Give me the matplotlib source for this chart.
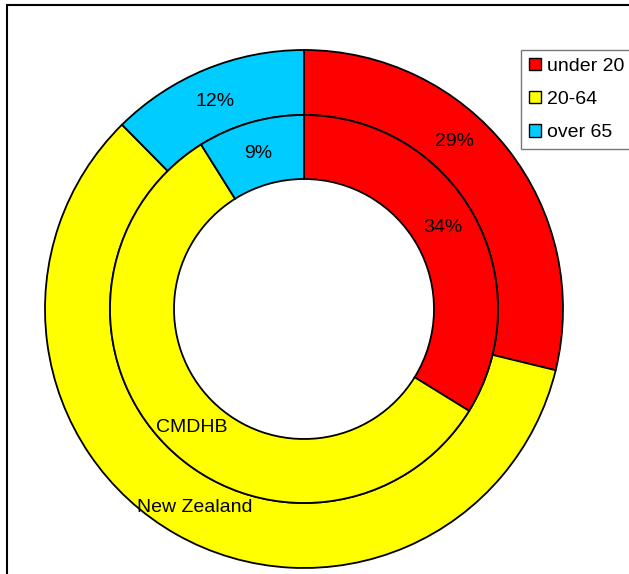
import matplotlib
matplotlib.use("Agg")
import matplotlib.pyplot as plt
from matplotlib.patches import Rectangle, Patch

plt.rcParams['font.family'] = ['Liberation Sans', 'DejaVu Sans']

categories = ["under 20", "20-64", "over 65"]
nz_values = [28.8, 58.8, 12.4]  # outer ring: New Zealand
cmdhb_values = [33.8, 57.3, 8.9]  # inner ring: CMDHB
colors = ["#FF0000", "#FFFF00", "#00CCFF"]
ring_names = ["New Zealand", "CMDHB"]

W, H = 629, 574
fig = plt.figure(figsize=(W / 100, H / 100), dpi=100)
ax = fig.add_axes([0, 0, 1, 1])

cx, cy = 304, H - 309
r_outer, r_mid, r_hole = 259, 194, 130
wp = dict(edgecolor='black', linewidth=1.3)

ax.pie(nz_values, colors=colors, radius=r_outer, center=(cx, cy),
       startangle=90, counterclock=False,
       wedgeprops=dict(width=r_outer - r_mid, **wp), frame=True)
ax.pie(cmdhb_values, colors=colors, radius=r_mid, center=(cx, cy),
       startangle=90, counterclock=False,
       wedgeprops=dict(width=r_mid - r_hole, **wp), frame=True)
ax.set_xlim(0, W)
ax.set_ylim(0, H)
ax.set_aspect('equal')
ax.axis('off')

fs = 14
# percentage labels (pixel positions)
lbl = [("%.0f%%" % nz_values[0], 455, 142), ("%.0f%%" % cmdhb_values[0], 443, 228),
       ("%.0f%%" % nz_values[2], 215, 102), ("%.0f%%" % cmdhb_values[2], 258, 153)]
for t, x, y in lbl:
    ax.text(x, H - y, t, fontsize=fs, ha='center', va='center')
ax.text(192, H - 427, ring_names[1], fontsize=fs, ha='center', va='center')
ax.text(195, H - 508, ring_names[0], fontsize=fs, ha='center', va='center')

# chart frame
ax.add_patch(Rectangle((7, -50), 700, H - 5 + 50, fill=False,
                       edgecolor='black', linewidth=1.5, clip_on=False))

handles = [Patch(facecolor=c, edgecolor='black', linewidth=1.0) for c in colors]
leg = fig.legend(handles, categories, loc='upper left',
                 bbox_to_anchor=(521 / W, 1 - 50 / H), fontsize=fs,
                 frameon=True, fancybox=False, shadow=False,
                 handlelength=0.62, handleheight=0.62, handletextpad=0.3,
                 labelspacing=0.82, borderpad=0.4, borderaxespad=0)
leg.get_frame().set_edgecolor('#555555')
leg.get_frame().set_linewidth(1.0)

fig.savefig("out.png", dpi=100)
